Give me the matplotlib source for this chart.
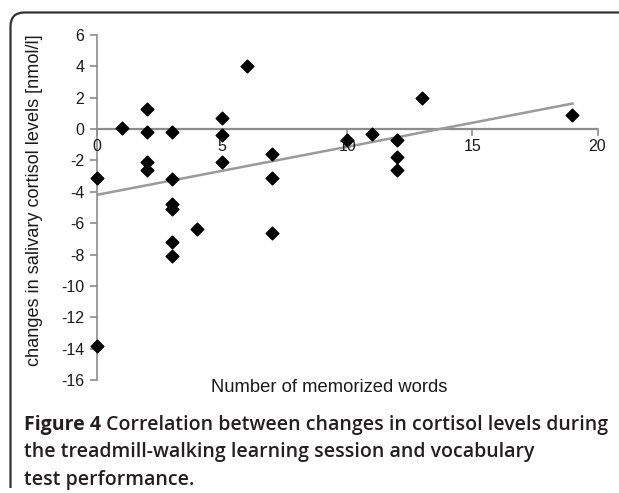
import numpy as np
import matplotlib
matplotlib.use("Agg")
import matplotlib.pyplot as plt
from matplotlib.path import Path
from matplotlib.patches import PathPatch

# memorized words vs. change in salivary cortisol
words = [0, 0, 1, 2, 2, 2, 2, 3, 3, 3, 3, 3, 3, 4, 5, 5, 5, 6, 7, 7, 7,
         10, 11, 12, 12, 12, 13, 19]
cortisol = [-3.1, -13.8, 0.05, 1.3, -0.2, -2.1, -2.6, -0.2, -3.2, -4.8, -5.1,
            -7.2, -8.1, -6.4, 0.7, -0.4, -2.1, 4.0, -1.6, -3.1, -6.6,
            -0.7, -0.3, -0.7, -1.8, -2.6, 2.0, 0.9]
xticks = [0, 5, 10, 15, 20]
yticks = list(range(-16, 7, 2))

caption_bold = "Figure 4"
caption_lines = [" Correlation between changes in cortisol levels during",
                 "the treadmill-walking learning session and vocabulary",
                 "test performance."]

W, H = 619, 493
fig = plt.figure(figsize=(W / 100, H / 100), dpi=100)
ax = fig.add_axes([97 / W, 1 - 380 / H, (597.5 - 97) / W, (380 - 35) / H])

axis_col = "#8c8c8c"
txt_col = "#1a1a1a"
tick_font = dict(family="Liberation Sans", size=11.5, color=txt_col)

ax.set_xlim(0, 20)
ax.set_ylim(-16, 6)

# linear trendline (least squares, like the spreadsheet one)
k, b = np.polyfit(words, cortisol, 1)
xs = np.array([min(words), max(words)])
ax.plot(xs, k * xs + b, color="#9a9a9a", lw=1.8, zorder=2)

ax.scatter(words, cortisol, marker="D", s=42, color="black", zorder=3,
           clip_on=False)

for s in ["top", "right", "bottom"]:
    ax.spines[s].set_visible(False)
ax.spines["left"].set_color(axis_col)
ax.spines["left"].set_linewidth(1.2)

# x axis drawn at y = 0
ax.axhline(0, color=axis_col, lw=1.6, zorder=1)
for t in xticks:
    ax.plot([t, t], [0, -0.35], color=axis_col, lw=1.2, zorder=1,
            clip_on=False)
    ax.text(t, -0.6, str(t), ha="center", va="top", **tick_font)
ax.set_xticks([])

ax.set_yticks(yticks)
ax.set_yticklabels([str(v) for v in yticks], fontfamily="Liberation Sans",
                   fontsize=11.5, color=txt_col)
ax.tick_params(axis="y", length=5, width=1.2, color=axis_col, pad=4)

ax.set_ylabel("changes in salivary cortisol levels [nmol/l]",
              fontfamily="Liberation Sans", fontsize=13.1, color=txt_col,
              labelpad=4)
ax.yaxis.set_label_coords(-0.108, (1 - (200 - 35) / 345))
fig.text(329 / W, 1 - 387 / H, "Number of memorized words", ha="center",
         va="center", fontfamily="Liberation Sans", fontsize=13.2,
         color=txt_col)

# panel frame: left and top edges with a rounded corner
r = 14
x0, y0 = 10.5, H - 12.5
verts = [(x0, 5), (x0, y0 - r), (x0, y0), (x0 + r, y0), (W + 5, y0)]
codes = [Path.MOVETO, Path.LINETO, Path.CURVE3, Path.CURVE3, Path.LINETO]
fig.patches.append(PathPatch(Path(verts, codes), fill=False, lw=1.6,
                             edgecolor="#333333", transform=None))

cap_font = dict(family="Open Sans", size=14.0, color="#231f20")
t1 = fig.text(24 / W, 1 - 425 / H, caption_bold, va="center",
              weight="bold", **cap_font)
ax.annotate(caption_lines[0], xy=(1, 0.5), xycoords=t1, va="center",
            ha="left", weight="semibold", **cap_font)
for i, line in enumerate(caption_lines[1:]):
    fig.text(24 / W, 1 - (452 + 27.5 * i) / H, line, va="center",
             weight="semibold", **cap_font)

fig.savefig("out.png", dpi=100)
